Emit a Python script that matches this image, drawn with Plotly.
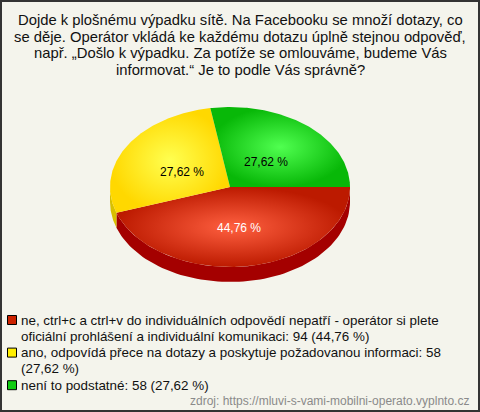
import numpy as np
import plotly.graph_objects as go

title_lines = [
    "Dojde k plošnému výpadku sítě. Na Facebooku se množí dotazy, co",
    "se děje. Operátor vkládá ke každému dotazu úplně stejnou odpověď,",
    "např. „Došlo k výpadku. Za potíže se omlouváme, budeme Vás",
    "informovat.“ Je to podle Vás správně?",
]
categories = [
    "ne, ctrl+c a ctrl+v do individuálních odpovědí nepatří - operátor si plete oficiální prohlášení a individuální komunikaci",
    "ano, odpovídá přece na dotazy a poskytuje požadovanou informaci",
    "není to podstatné",
]
legend_lines = [
    ["ne, ctrl+c a ctrl+v do individuálních odpovědí nepatří - operátor si plete",
     "oficiální prohlášení a individuální komunikaci: 94 (44,76 %)"],
    ["ano, odpovídá přece na dotazy a poskytuje požadovanou informaci: 58",
     "(27,62 %)"],
    ["není to podstatné: 58 (27,62 %)"],
]
values = [94, 58, 58]
source = "zdroj: https://mluvi-s-vami-mobilni-operato.vyplnto.cz"

# styles
top_center = ["#ff6040", "#ffff50", "#50ff50"]
top_edge = ["#bc1a00", "#ffd800", "#08b808"]
side_col = ["#a40000", "#d8c000", "#089008"]
swatch = ["#cc2200", "#ffee00", "#11cc11"]
label_col = ["white", "black", "black"]
BG = "#f4f4ec"
FONT = "Liberation Sans, Arial, sans-serif"
cx, cy, rx, ry, depth = 230, 187, 120, 80, 15

total = sum(values)
fracs = [v / total for v in values]
starts = np.cumsum([0] + fracs[:-1]) * 2 * np.pi
ends = np.cumsum(fracs) * 2 * np.pi

fig = go.Figure()

# side walls (front half visible: 0..pi, screen y downward)
for i in range(len(values)):
    a0, a1 = starts[i], min(ends[i], np.pi)
    if a0 >= np.pi:
        continue
    t = np.linspace(a0, a1, 80)
    xs = np.concatenate([cx + rx * np.cos(t), (cx + rx * np.cos(t))[::-1]])
    ys = np.concatenate([cy + ry * np.sin(t), (cy + ry * np.sin(t) + depth)[::-1]])
    fig.add_trace(go.Scatter(x=xs, y=ys, mode="lines", fill="toself",
                             fillcolor=side_col[i], line=dict(width=0, color=side_col[i]),
                             hoverinfo="skip", showlegend=False))

# top faces
for i in range(len(values)):
    t = np.linspace(starts[i], ends[i], 120)
    xs = np.concatenate([[cx], cx + rx * np.cos(t), [cx]])
    ys = np.concatenate([[cy], cy + ry * np.sin(t), [cy]])
    fig.add_trace(go.Scatter(
        x=xs, y=ys, mode="lines", fill="toself",
        fillgradient=dict(type="radial", colorscale=[[0, top_center[i]], [1, top_edge[i]]]),
        line=dict(width=0, color=top_edge[i]),
        name=categories[i], hoverinfo="skip", showlegend=False))

# percentage labels
for i in range(len(values)):
    m = (starts[i] + ends[i]) / 2
    lx = cx + 0.47 * rx * np.cos(m)
    ly = cy + 0.47 * ry * np.sin(m) + 4
    pct = f"{fracs[i]*100:.2f}".replace(".", ",") + " %"
    fig.add_annotation(x=lx, y=ly, text=pct, showarrow=False,
                       font=dict(family=FONT, size=12, color=label_col[i]))

# title
for k, line in enumerate(title_lines):
    fig.add_annotation(x=240, y=20 + k * 16.6, text=line, showarrow=False,
                       xanchor="center", yanchor="middle",
                       font=dict(family=FONT, size=14.8, color="#111111"))

# legend
y = 320
for i, lines in enumerate(legend_lines):
    fig.add_shape(type="rect", x0=7.5, x1=16.5, y0=y - 4.5, y1=y + 4.5,
                  fillcolor=swatch[i], line=dict(color="#000000", width=1))
    for line in lines:
        fig.add_annotation(x=19, y=y, text=line, showarrow=False,
                           xanchor="left", yanchor="middle",
                           font=dict(family=FONT, size=13.4, color="#111111"))
        y += 16.3

fig.add_annotation(x=471, y=401, text=source, showarrow=False,
                   xanchor="right", yanchor="middle",
                   font=dict(family=FONT, size=12, color="#8a8a8a"))

fig.add_shape(type="rect", x0=1, y0=1, x1=479, y1=411,
              line=dict(color="#333333", width=2), fillcolor="rgba(0,0,0,0)")

fig.update_layout(
    width=480, height=412, margin=dict(l=0, r=0, t=0, b=0),
    paper_bgcolor=BG, plot_bgcolor=BG,
    xaxis=dict(range=[0, 480], visible=False, fixedrange=True),
    yaxis=dict(range=[412, 0], visible=False, fixedrange=True),
    showlegend=False,
)
fig.write_html("out.html", config={"displayModeBar": False},
               post_script="document.body.style.margin='0';document.body.style.overflow='hidden';")
